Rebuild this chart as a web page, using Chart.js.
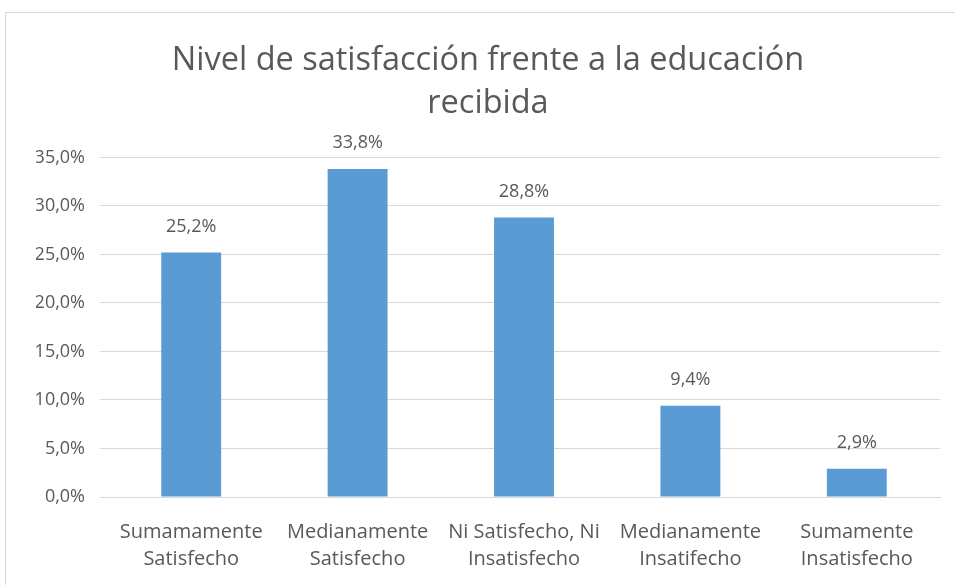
<!DOCTYPE html>
<html>
<head>
<meta charset="utf-8">
<script src="https://cdn.jsdelivr.net/npm/chart.js"></script>
<style>
  body { margin:0; background:#fff; overflow:hidden; }
  #frame { position:absolute; left:5px; top:12px; width:980px; height:620px; border:1px solid #d9d9d9; }
  #wrap { position:absolute; left:0; top:0; width:955px; height:585px; }
</style>
</head>
<body>
<div id="frame"></div>
<div id="wrap"><canvas id="chart"></canvas></div>
<script>
const categories = [
  ['Sumamamente', 'Satisfecho'],
  ['Medianamente', 'Satisfecho'],
  ['Ni Satisfecho, Ni', 'Insatisfecho'],
  ['Medianamente', 'Insatifecho'],
  ['Sumamente', 'Insatisfecho']
];
const values = [25.2, 33.8, 28.8, 9.4, 2.9];
const titleLines = ['Nivel de satisfacción frente a la educación', 'recibida'];

const FONT = '"Open Sans", sans-serif';
const GREY = '#595959';

const fmt = v => v.toFixed(1).replace('.', ',') + '%';

const barLabels = {
  id: 'barLabels',
  afterDatasetsDraw(chart){
    const ctx = chart.ctx;
    const meta = chart.getDatasetMeta(0);
    ctx.save();
    ctx.font = '18px ' + FONT;
    ctx.fillStyle = GREY;
    ctx.textAlign = 'center';
    ctx.textBaseline = 'middle';
    meta.data.forEach((bar, i) => {
      ctx.fillText(fmt(values[i]), bar.x, bar.y - 26);
    });
    ctx.restore();
  }
};

new Chart(document.getElementById('chart'), {
  type: 'bar',
  data: {
    labels: categories,
    datasets: [{
      data: values,
      backgroundColor: '#5b9bd5',
      barPercentage: 0.36,
      categoryPercentage: 1
    }]
  },
  options: {
    responsive: true,
    maintainAspectRatio: false,
    animation: false,
    layout: { padding: { left: 36, right: 15, top: 0, bottom: 0 } },
    plugins: {
      legend: { display: false },
      tooltip: { enabled: false },
      title: {
        display: true,
        text: titleLines,
        color: GREY,
        font: { family: FONT, size: 32.5, weight: 'normal', lineHeight: 1.33 },
        padding: { top: 39, bottom: 32 }
      }
    },
    scales: {
      x: {
        grid: { display: false },
        border: { color: '#d9d9d9' },
        ticks: {
          color: GREY,
          font: { family: FONT, size: 20, lineHeight: 1.35 },
          padding: 14,
          maxRotation: 0,
          autoSkip: false
        },
        afterFit(scale){ scale.height = 88; }
      },
      y: {
        min: 0,
        max: 35,
        grid: { color: '#d9d9d9' },
        border: { display: false },
        ticks: {
          stepSize: 5,
          color: GREY,
          font: { family: FONT, size: 18 },
          padding: 15,
          callback: v => fmt(v)
        },
        afterFit(scale){ scale.width = 72; }
      }
    }
  },
  plugins: [barLabels]
});
</script>
</body>
</html>
